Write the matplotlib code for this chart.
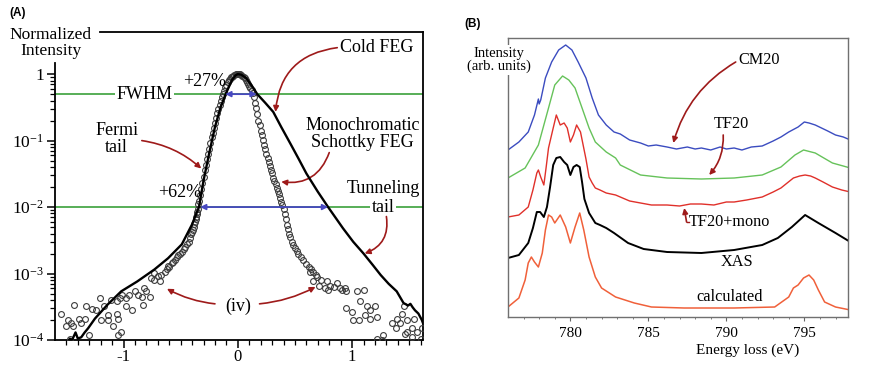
import matplotlib
matplotlib.use('Agg')
import matplotlib.pyplot as plt
import numpy as np
from matplotlib.ticker import FixedLocator, NullFormatter

plt.rcParams['font.family'] = ['Liberation Serif', 'DejaVu Serif']
plt.rcParams['mathtext.fontset'] = 'custom'
plt.rcParams['mathtext.rm'] = 'Liberation Serif'

# --- (A) energy distribution of the electron sources ---
# cold FEG (solid line)
cold_x = [-1.50, -1.47, -1.45, -1.42, -1.40, -1.37, -1.34, -1.31, -1.25, -1.14, -1.02,
          -0.88, -0.73, -0.61, -0.49, -0.40, -0.34, -0.30, -0.25, -0.20, -0.15, -0.10,
          -0.05, -0.02, 0.00, 0.03, 0.07, 0.12, 0.17, 0.24, 0.31, 0.38, 0.46, 0.53,
          0.60, 0.70, 0.79, 0.92, 1.01, 1.10, 1.18, 1.25, 1.32, 1.39, 1.45, 1.49,
          1.51, 1.53, 1.55, 1.58, 1.61, 1.62]
cold_y = [8e-5, 1.05e-4, 1.0e-4, 1.3e-4, 1.05e-4, 1.1e-4, 1.3e-4, 1.5e-4, 2.1e-4, 3.4e-4, 5.4e-4,
          7.6e-4, 1.15e-3, 1.7e-3, 2.75e-3, 5.5e-3, 1.0e-2, 0.025, 0.065, 0.16, 0.32, 0.53,
          0.82, 0.96, 1.0, 0.98, 0.88, 0.68, 0.50, 0.37, 0.27, 0.16, 0.09, 0.054,
          0.032, 0.017, 0.0100, 0.0048, 3.0e-3, 2.0e-3, 1.35e-3, 9.5e-4, 7.0e-4, 5.4e-4, 3.6e-4, 3.3e-4,
          3.5e-4, 3.1e-4, 2.8e-4, 2.5e-4, 2.0e-4, 1.8e-4]

# monochromated Schottky FEG (open circles): central peak
mono_x = [-0.62, -0.61, -0.60, -0.58, -0.57, -0.55, -0.535, -0.52, -0.505, -0.49, -0.475,
          -0.46, -0.445, -0.43, -0.42, -0.41, -0.40, -0.39, -0.385, -0.38, -0.375, -0.37,
          -0.365, -0.36, -0.355, -0.35, -0.345, -0.34, -0.33, -0.32, -0.31, -0.30, -0.29,
          -0.28, -0.27, -0.26, -0.25, -0.24, -0.23, -0.22, -0.21, -0.20, -0.19, -0.18,
          -0.17, -0.16, -0.15, -0.14, -0.13, -0.12, -0.11, -0.10, -0.09, -0.08, -0.07,
          -0.06, -0.05, -0.04, -0.03, -0.02, -0.01, 0.00, 0.01, 0.02, 0.03, 0.04, 0.05,
          0.06, 0.07, 0.08, 0.09, 0.10, 0.11, 0.12, 0.13, 0.14, 0.15, 0.16, 0.17, 0.18,
          0.19, 0.20, 0.21, 0.22, 0.23, 0.24, 0.25, 0.26, 0.27, 0.28, 0.29, 0.30, 0.31,
          0.32, 0.33, 0.34, 0.35, 0.36, 0.37, 0.38, 0.39, 0.40, 0.41, 0.42, 0.43, 0.44,
          0.45, 0.46, 0.47, 0.485, 0.50, 0.515, 0.53, 0.55, 0.57, 0.60, 0.62, 0.64, 0.66, 0.68]
mono_y = [1.15e-3, 1.3e-3, 1.25e-3, 1.45e-3, 1.5e-3, 1.6e-3, 1.75e-3, 1.9e-3, 2.0e-3, 2.1e-3, 2.3e-3,
          2.5e-3, 2.75e-3, 3.0e-3, 3.4e-3, 3.9e-3, 4.2e-3, 4.5e-3, 5.0e-3, 5.5e-3, 6.0e-3, 6.5e-3,
          7.1e-3, 7.8e-3, 8.5e-3, 9.3e-3, 0.0112, 0.0123, 0.0151, 0.0186, 0.0229, 0.0288, 0.0355,
          0.0427, 0.0525, 0.063, 0.076, 0.093, 0.112, 0.132, 0.155, 0.182, 0.219, 0.257,
          0.30, 0.347, 0.40, 0.457, 0.51, 0.56, 0.63, 0.69, 0.76, 0.81, 0.85,
          0.89, 0.92, 0.95, 0.97, 0.99, 1.0, 1.0, 1.0, 0.99, 0.97, 0.94, 0.90,
          0.86, 0.81, 0.76, 0.70, 0.66, 0.61, 0.57, 0.52, 0.46, 0.37, 0.31, 0.25, 0.20,
          0.17, 0.14, 0.12, 0.102, 0.087, 0.074, 0.063, 0.055, 0.048, 0.042, 0.036, 0.032, 0.0275,
          0.0245, 0.022, 0.0195, 0.0174, 0.0155, 0.0135, 0.012, 0.0107, 0.0093, 0.0079, 0.0065, 0.0054, 0.0046,
          0.0040, 0.0035, 0.0030, 0.0027, 0.0024, 0.0022, 0.0020, 0.0018, 0.0016, 0.00138, 0.00126, 0.00115, 0.00105, 0.00095]

# noisy tails of the monochromated spectrum
tail_x = [-1.55, -1.43, -1.49, -1.46, -1.50, -1.44, -1.39, -1.34, -1.37, -1.28, -1.24, -1.30,
          -1.47, -1.21, -1.20, -1.14, -1.11, -1.06, -1.06, -1.05, -1.14, -1.09, -1.05, -1.02,
          -1.33, -1.17, -1.03, -1.01, -0.98, -0.95, -0.90, -0.87, -0.84, -0.82, -0.80, -0.77,
          -0.83, -0.93, -0.98, -0.76, -0.73, -0.70, -0.67, -0.64, -0.68, -0.73,
          0.63, 0.69, 0.73, 0.78, 0.81, 0.87, 0.91, 0.94, 0.84, 0.66, 0.76, 0.71,
          0.89, 0.79, 0.95, 1.04, 1.10, 1.07, 1.13, 1.16, 1.20, 1.01, 1.06, 1.11, 1.16, 1.22,
          0.95, 1.00, 1.45, 1.44, 1.39, 1.35, 1.42, 1.48, 1.38, 1.54, 1.52, 1.57, 1.48, 1.61,
          1.60, 1.52, 1.46, 1.27, 1.22, 1.26]
tail_y = [2.5e-4, 3.4e-4, 2.0e-4, 1.8e-4, 1.6e-4, 1.6e-4, 2.1e-4, 2.1e-4, 1.8e-4, 2.9e-4, 2.8e-4, 1.2e-4,
          1.05e-4, 4.3e-4, 2.0e-4, 2.4e-4, 4.0e-4, 3.8e-4, 2.5e-4, 2.1e-4, 2.0e-4, 1.6e-4, 1.2e-4, 1.3e-4,
          3.2e-4, 3.2e-4, 4.3e-4, 4.8e-4, 4.3e-4, 4.8e-4, 5.4e-4, 4.8e-4, 4.5e-4, 6.0e-4, 5.4e-4, 4.5e-4,
          3.4e-4, 2.8e-4, 3.2e-4, 8.5e-4, 8.1e-4, 9.1e-4, 9.5e-4, 1.07e-3, 7.6e-4, 1.03e-3,
          1.07e-3, 8.9e-4, 8.1e-4, 7.6e-4, 6.5e-4, 7.2e-4, 5.7e-4, 6.0e-4, 6.3e-4, 7.8e-4, 6.0e-4, 6.5e-4,
          6.0e-4, 5.7e-4, 5.4e-4, 5.4e-4, 5.7e-4, 3.8e-4, 3.2e-4, 2.8e-4, 3.2e-4, 2.0e-4, 2.0e-4, 2.4e-4, 2.1e-4, 2.2e-4,
          3.0e-4, 2.6e-4, 3.2e-4, 2.5e-4, 2.1e-4, 1.8e-4, 1.8e-4, 2.0e-4, 1.5e-4, 2.1e-4, 1.5e-4, 1.3e-4, 1.3e-4, 1.5e-4,
          1.05e-4, 1.1e-4, 1.25e-4, 1.2e-4, 1.05e-4, 1.0e-4]

y_ticks = [1, 1e-1, 1e-2, 1e-3, 1e-4]
y_labels = ['1', r'$\mathregular{10^{-1}}$', r'$\mathregular{10^{-2}}$',
            r'$\mathregular{10^{-3}}$', r'$\mathregular{10^{-4}}$']
x_ticks = [-1, 0, 1]
x_labels = ['-1', '0', '1']

# --- (B) Cu L2,3 edge spectra ---
cm20_ev = [776.0, 776.7, 777.3, 777.7, 777.95, 778.0, 778.1, 778.4, 778.8, 779.25, 779.7, 780.1,
           780.5, 781.0, 781.4, 781.8, 782.3, 782.8, 783.2, 783.8, 784.5, 785.0, 785.5, 786.2,
           786.8, 787.5, 788.0, 788.4, 789.0, 789.6, 790.0, 790.5, 791.0, 791.6, 792.3, 793.0,
           793.5, 794.0, 794.6, 795.0, 795.3, 795.7, 796.1, 796.5, 797.0, 797.5, 797.95]
cm20 = [167, 175, 185, 202, 218, 213, 217, 239, 255, 267, 272, 267,
        255, 239, 219, 202, 192, 185, 183, 177, 174, 171, 172, 170,
        168, 170, 168, 169, 167, 170, 168, 169, 167, 170, 171, 176,
        180, 185, 190, 195, 194, 192, 189, 186, 182, 180, 177]

tf20_ev = [776.0, 777.1, 777.95, 778.6, 779.0, 779.5, 779.9, 780.3, 780.75, 781.2, 781.6,
           782.3, 782.9, 783.2, 784.5, 786.2, 788.4, 790.5, 792.3, 793.5, 794.4, 794.95,
           795.7, 796.8, 797.95]
tf20 = [139, 149, 172, 209, 232, 241, 237, 229, 209, 189, 175,
        165, 159, 152, 142, 139, 138, 139, 142, 150, 162, 167,
        164, 154, 149]

mono_ev = [776.0, 776.7, 777.3, 777.6, 777.85, 777.95, 778.1, 778.3, 778.45, 778.6, 778.9,
           779.1, 779.35, 779.6, 779.8, 780.0, 780.2, 780.4, 780.65, 781.0, 781.2, 781.4,
           781.6, 781.9, 782.3, 782.9, 783.2, 783.8, 784.5, 785.2, 786.2, 787.0, 787.7, 788.4,
           789.2, 790.0, 790.5, 791.3, 792.3, 793.0, 793.5, 794.3, 794.7, 795.05, 795.4, 795.7,
           796.2, 796.8, 797.4, 797.95]
mono = [100, 102, 110, 127, 144, 147, 140, 132, 150, 169, 189,
        202, 192, 194, 189, 175, 182, 192, 185, 158, 140, 134,
        129, 127, 124, 122, 120, 116, 114, 112, 112, 111, 113, 113,
        112, 115, 115, 117, 120, 125, 129, 139, 141, 142, 141, 139,
        135, 130, 127, 125]

xas_ev = [776.0, 776.7, 777.3, 777.6, 777.85, 778.06, 778.3, 778.5, 778.7, 778.9, 779.1,
          779.35, 779.6, 779.8, 780.0, 780.2, 780.4, 780.6, 780.75, 780.9, 781.2, 781.6,
          781.9, 782.3, 782.8, 783.7, 784.7, 786.2, 788.4, 790.5, 792.3, 793.3, 794.2,
          795.05, 795.9, 797.0, 797.95]
xas = [59, 62, 74, 89, 105, 105, 100, 110, 130, 152, 159,
       160, 155, 152, 142, 150, 152, 150, 135, 118, 104, 94,
       92, 89, 84, 74, 68, 65, 64, 67, 72, 79, 90,
       102, 94, 84, 75]

calc_ev = [776.0, 776.7, 777.1, 777.3, 777.5, 777.7, 777.95, 778.2, 778.4, 778.6, 778.8,
           779.0, 779.35, 779.7, 780.0, 780.3, 780.6, 780.86, 781.2, 781.6, 782.0, 782.9,
           784.1, 785.2, 787.3, 790.5, 793.1, 794.0, 794.3, 794.6, 794.95, 795.3, 795.6,
           795.9, 796.3, 797.0, 797.95]
calc = [10, 19, 37, 54, 60, 55, 50, 64, 87, 102, 100,
        94, 102, 90, 74, 90, 104, 87, 60, 40, 29, 20,
        14, 10, 9, 9, 10, 20, 29, 32, 39, 42, 37,
        27, 15, 10, 7]

b_ticks = [780, 785, 790, 795]

GREEN = '#4aa84a'
BLUE_ARR = '#4848c0'
RED_ARR = '#9e1a1a'

fig = plt.figure(figsize=(8.71, 3.65), dpi=100)

# ---------------- panel A ----------------
axA = fig.add_axes([0.0631, 0.0685, 0.4225, 0.8438])
axA.set_yscale('log')
axA.set_xlim(-1.6, 1.62)
axA.set_ylim(1e-4, 4.3)

axA.axhline(0.5, color=GREEN, lw=1.3, zorder=1)
axA.axhline(0.01, color=GREEN, lw=1.3, zorder=1)

axA.plot(mono_x, mono_y, 'o', ms=4.2, mfc='none', mec='#3c3c3c', mew=0.8, zorder=3)
axA.plot(tail_x, tail_y, 'o', ms=4.2, mfc='none', mec='#3c3c3c', mew=0.8, zorder=3)
axA.plot(cold_x, cold_y, color='black', lw=1.7, zorder=4)

# width arrows
axA.annotate('', xy=(-0.11, 0.5), xytext=(0.165, 0.5),
             arrowprops=dict(arrowstyle='<|-|>', color=BLUE_ARR, lw=1.3, mutation_scale=8,
                             shrinkA=0, shrinkB=0), zorder=5)
axA.annotate('', xy=(-0.33, 0.01), xytext=(0.79, 0.01),
             arrowprops=dict(arrowstyle='<|-|>', color=BLUE_ARR, lw=1.3, mutation_scale=8,
                             shrinkA=0, shrinkB=0), zorder=5)

fs = 13
axA.text(-0.82, 0.5, 'FWHM', fontsize=fs, ha='center', va='center',
         bbox=dict(facecolor='white', edgecolor='none', pad=1))
axA.text(-0.29, 0.78, '+27%', fontsize=fs, ha='center', va='center')
axA.text(-0.51, 0.0165, '+62%', fontsize=fs, ha='center', va='center')
axA.text(1.22, 2.5, 'Cold FEG', fontsize=fs, ha='center', va='center')
axA.text(-1.06, 0.105, 'Fermi\ntail', fontsize=fs, ha='center', va='center', linespacing=1.0)
axA.text(1.09, 0.125, 'Monochromatic\nSchottky FEG', fontsize=fs, ha='center', va='center',
         linespacing=1.0)
axA.text(1.27, 0.019, 'Tunneling', fontsize=fs, ha='center', va='center')
axA.text(1.27, 0.01, 'tail', fontsize=fs, ha='center', va='center',
         bbox=dict(facecolor='white', edgecolor='none', pad=1))
axA.text(0.0, 3.2e-4, '(iv)', fontsize=fs, ha='center', va='center')

def red_arrow(ax, start, end, rad):
    ax.annotate('', xy=end, xytext=start,
                arrowprops=dict(arrowstyle='-|>', color=RED_ARR, lw=1.2, mutation_scale=8,
                                shrinkA=0, shrinkB=0, connectionstyle='arc3,rad=%s' % rad))

red_arrow(axA, (0.87, 2.5), (0.33, 0.27), 0.4)
red_arrow(axA, (-0.84, 0.1), (-0.32, 0.038), -0.15)
red_arrow(axA, (0.80, 0.066), (0.38, 0.024), -0.4)
red_arrow(axA, (1.30, 0.0072), (1.11, 0.002), -0.4)
red_arrow(axA, (-0.20, 3.5e-4), (-0.62, 5.9e-4), -0.1)
red_arrow(axA, (0.19, 3.5e-4), (0.68, 6.3e-4), 0.1)

axA.yaxis.set_major_locator(FixedLocator(y_ticks))
axA.set_yticklabels(y_labels)
# minor log ticks only where the left axis line is drawn
axA.yaxis.set_minor_locator(FixedLocator(
    [m * 10.0 ** e for e in range(-4, 0) for m in range(2, 10)]))
axA.yaxis.set_minor_formatter(NullFormatter())
axA.set_xticks(x_ticks)
axA.set_xticklabels(x_labels)
axA.set_xticks(np.arange(-1.5, 1.61, 0.1), minor=True)
axA.tick_params(axis='both', which='major', direction='out', length=6, width=1.1,
                labelsize=12.5, pad=2)
axA.tick_params(axis='x', which='major', labelsize=12, pad=0.5)
axA.tick_params(axis='both', which='minor', direction='out', length=3.5, width=0.9)
for s in axA.spines.values():
    s.set_linewidth(1.3)
axA.spines['left'].set_bounds(1e-4, 1.47)
axA.spines['top'].set_bounds(-1.21, 1.62)

fig.text(51 / 871, 1 - 43 / 365, 'Normalized\nIntensity', fontsize=12.5, ha='center',
         va='center', linespacing=0.95)
fig.text(18 / 871, 1 - 13 / 365, '(A)', fontsize=8.5, fontweight='bold',
         family='Liberation Sans', ha='center', va='center')

# ---------------- panel B ----------------
axB = fig.add_axes([0.5832, 0.1315, 0.3904, 0.7644])
axB.set_xlim(776, 797.8)
axB.set_ylim(0, 279)
axB.plot(cm20_ev, cm20, color='#3b4cc0', lw=1.0)
axB.plot(tf20_ev, tf20, color='#66c25a', lw=1.0)
axB.plot(mono_ev, mono, color='#e0302a', lw=1.0)
axB.plot(xas_ev, xas, color='black', lw=1.4)
axB.plot(calc_ev, calc, color='#f0603a', lw=1.1)

axB.set_xticks(b_ticks)
axB.set_xticks(range(777, 798), minor=True)
axB.set_yticks([])
axB.tick_params(axis='x', which='major', direction='out', length=3, width=0.8,
                labelsize=11, pad=4, color='#666666')
axB.tick_params(axis='x', which='minor', direction='out', length=1.5, width=0.6,
                color='#666666')
for s in axB.spines.values():
    s.set_color('#707070')
    s.set_linewidth(1.0)

fsb = 11.7
axB.text(792.1, 257, 'CM20', fontsize=fsb, ha='center', va='center')
axB.text(790.3, 193, 'TF20', fontsize=fsb, ha='center', va='center')
axB.text(790.2, 95, 'TF20+mono', fontsize=fsb, ha='center', va='center')
axB.text(790.7, 55, 'XAS', fontsize=fsb, ha='center', va='center')
axB.text(790.2, 20, 'calculated', fontsize=fsb, ha='center', va='center')
red_arrow(axB, (790.6, 255), (786.6, 174), 0.2)
red_arrow(axB, (789.8, 182), (788.9, 142), -0.2)
axB.plot([787.6, 787.45], [95, 95], color=RED_ARR, lw=1.0)
red_arrow(axB, (787.45, 95), (787.3, 109), 0.0)

fig.text(499 / 871, 1 - 60 / 365, 'Intensity\n(arb. units)', fontsize=10.5, ha='center',
         va='center', linespacing=1.0,
         bbox=dict(facecolor='white', edgecolor='none', pad=1), zorder=10)
fig.text(748 / 871, 1 - 350 / 365, 'Energy loss (eV)', fontsize=11, ha='center', va='center')
fig.text(473 / 871, 1 - 24 / 365, '(B)', fontsize=8.5, fontweight='bold',
         family='Liberation Sans', ha='center', va='center')

fig.savefig('out.png', dpi=100)
